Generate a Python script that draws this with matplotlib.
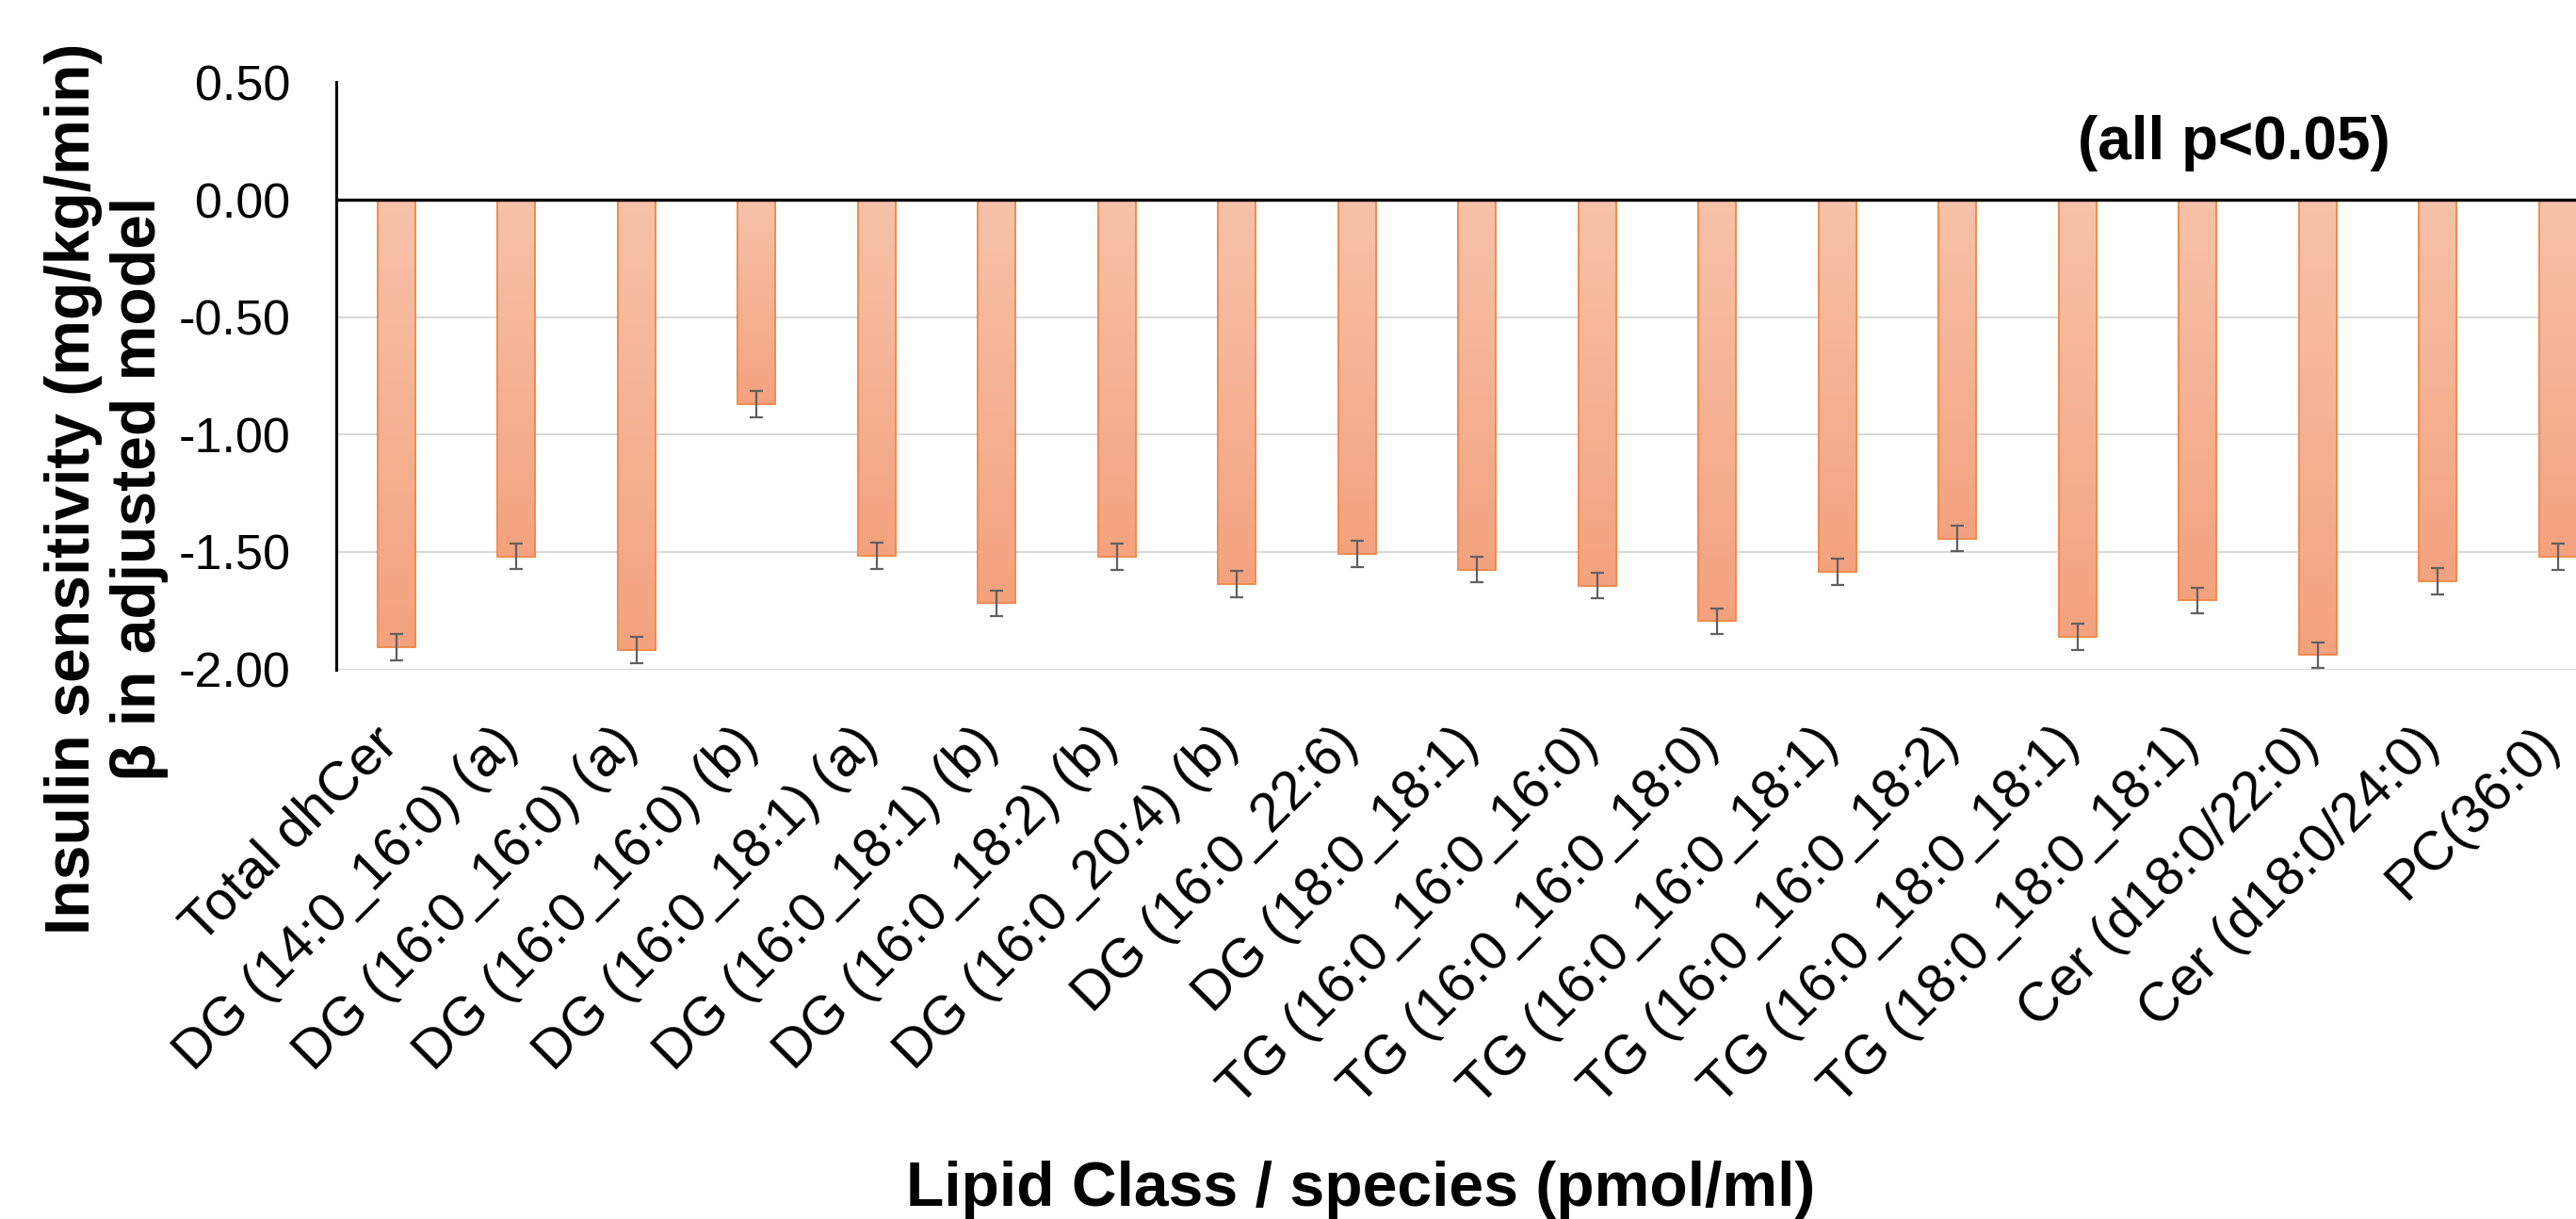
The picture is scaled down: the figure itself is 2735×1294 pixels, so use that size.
import numpy as np
import matplotlib
matplotlib.use("Agg")
import matplotlib.pyplot as plt
from matplotlib.colors import LinearSegmentedColormap
from matplotlib.transforms import ScaledTranslation

plt.rcParams['font.family'] = ['Liberation Sans', 'DejaVu Sans']
plt.rcParams['axes.unicode_minus'] = False

species = ["Total dhCer", "DG (14:0_16:0) (a)", "DG (16:0_16:0) (a)", "DG (16:0_16:0) (b)",
           "DG (16:0_18:1) (a)", "DG (16:0_18:1) (b)", "DG (16:0_18:2) (b)", "DG (16:0_20:4) (b)",
           "DG (16:0_22:6)", "DG (18:0_18:1)", "TG (16:0_16:0_16:0)", "TG (16:0_16:0_18:0)",
           "TG (16:0_16:0_18:1)", "TG (16:0_16:0_18:2)", "TG (16:0_18:0_18:1)", "TG (18:0_18:0_18:1)",
           "Cer (d18:0/22:0)", "Cer (d18:0/24:0)", "PC(36:0)"]
beta = [-1.906, -1.519, -1.918, -0.870, -1.515, -1.718, -1.521, -1.636, -1.509, -1.575,
        -1.643, -1.794, -1.585, -1.443, -1.861, -1.706, -1.939, -1.624, -1.521]
err = [0.056, 0.055, 0.055, 0.056, 0.056, 0.055, 0.056, 0.055, 0.056, 0.055,
       0.055, 0.055, 0.055, 0.055, 0.055, 0.053, 0.053, 0.055, 0.056]
yticks = [0.5, 0.0, -0.5, -1.0, -1.5, -2.0]

W, H = 2735, 1294
fig = plt.figure(figsize=(W / 100, H / 100), dpi=100)
# plot area runs past the right edge, the last bar is cut like in the original
ax = fig.add_axes([357 / W, 583.4 / H, 2422.5 / W, 623.1 / H])

x = np.arange(len(species))
bars = ax.bar(x, beta, width=0.314, facecolor='none', edgecolor='#F28B4C', linewidth=1.4, zorder=3)

# vertical gradient fill inside each bar
cmap = LinearSegmentedColormap.from_list("peach", ["#F7C2A9", "#F4A27E"])
grad = np.linspace(0, 1, 256).reshape(-1, 1)
for b in bars:
    x0, w, h = b.get_x(), b.get_width(), b.get_height()
    ax.imshow(grad, extent=(x0, x0 + w, h, 0), origin='upper', aspect='auto',
              cmap=cmap, zorder=2, interpolation='bilinear')

ax.errorbar(x, beta, yerr=err, fmt='none', ecolor='#606060', elinewidth=1.6,
            capsize=4.8, capthick=1.6, zorder=4)

ax.axhline(0, color='black', linewidth=2.4, zorder=5)

ax.set_xlim(-0.5, len(species) - 0.5)
ax.set_ylim(-2.0, 0.5)
ax.set_yticks(yticks)
ax.set_yticklabels([f"{v:.2f}" for v in yticks], fontsize=37.5)
ax.yaxis.grid(True, color='#D9D9D9', linewidth=1.5)
ax.set_axisbelow(True)
ax.tick_params(axis='y', length=0, pad=35)

ax.set_xticks(x)
ax.set_xticklabels(species, rotation=45, ha='right', fontsize=42)
ax.tick_params(axis='x', length=0, pad=37)
shift = ScaledTranslation(12 / 100, 0, fig.dpi_scale_trans)
for lab in ax.get_xticklabels():
    lab.set_transform(lab.get_transform() + shift)

for s in ['top', 'right', 'bottom']:
    ax.spines[s].set_visible(False)
ax.spines['left'].set_linewidth(2.2)
ax.spines['left'].set_color('black')

fig.text(113 / W, 1 - 519 / H, "Insulin sensitivity (mg/kg/min)\nβ in adjusted model",
         rotation=90, ha='center', va='center', multialignment='center',
         fontsize=47.5, fontweight='bold', linespacing=1.15)
fig.text(1445 / W, 14 / H, "Lipid Class / species (pmol/ml)", ha='center', va='baseline',
         fontsize=47.5, fontweight='bold')
fig.text(2372 / W, 1 - 152 / H, "(all p<0.05)", ha='center', va='center',
         fontsize=46, fontweight='bold')

fig.savefig("out.png", dpi=100)
